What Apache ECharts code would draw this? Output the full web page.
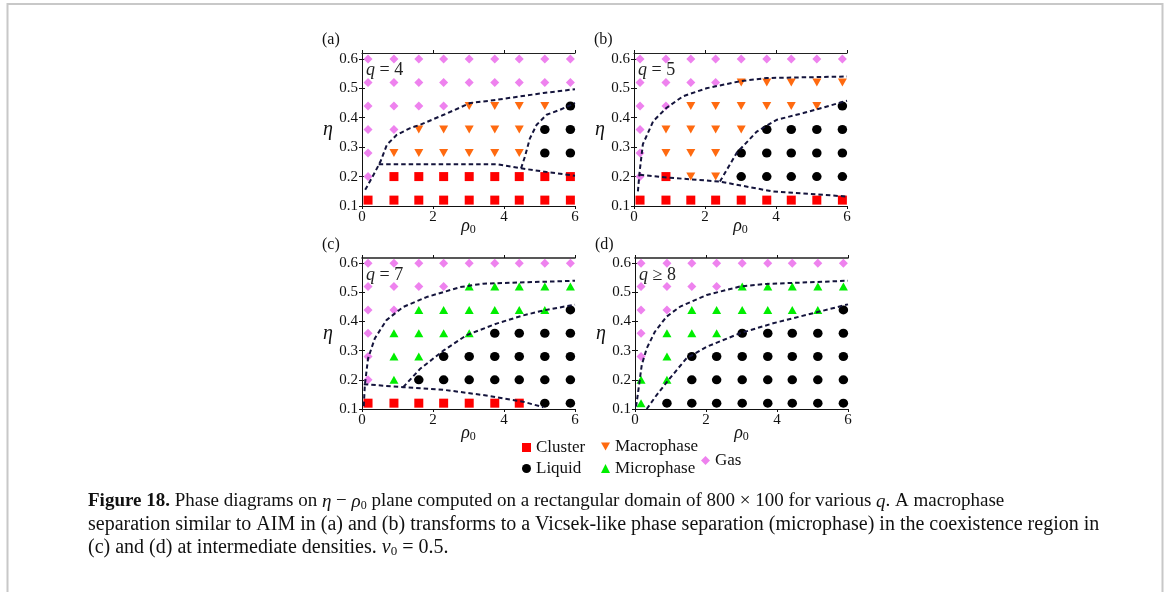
<!DOCTYPE html>
<html><head><meta charset="utf-8">
<script src="https://cdn.jsdelivr.net/npm/echarts@6/dist/echarts.min.js"></script>
<style>html,body{margin:0;padding:0;background:#fff}#c{width:1167px;height:592px}</style>
</head><body><div id="c"></div><script>
// ---------- data ----------
const rho = [0.17, 0.9, 1.6, 2.3, 3.02, 3.74, 4.43, 5.15, 5.87];
const eta = [0.12, 0.2, 0.28, 0.36, 0.44, 0.52, 0.6];
const xTicks = [0, 2, 4, 6];
const yTicks = [0.1, 0.2, 0.3, 0.4, 0.5, 0.6];
// rows: eta ascending; columns: rho ascending
// C cluster, L liquid, M macrophase, m microphase, G gas
const phaseA = ['CCCCCCCCC','GCCCCCCCC','GMMMMMMLL','GGMMMMMLL','GGGGMMMML','GGGGGGGGG','GGGGGGGGG'];
const phaseB = ['CCCCCCCCC','GCMMLLLLL','GMMMLLLLL','GMMMMLLLL','GGMMMMMML','GGGGMMMMM','GGGGGGGGG'];
const phaseC = ['CCCCCCCLL','GmLLLLLLL','GmmLLLLLL','GmmmmLLLL','GGmmmmmmL','GGGGmmmmm','GGGGGGGGG'];
const phaseD = ['mLLLLLLLL','mmLLLLLLL','GmLLLLLLL','GmmmLLLLL','GGmmmmmmL','GGGGmmmmm','GGGGGGGGG'];
// phase boundaries (dashed)
const bndA1 = [[0.09,0.155],[0.3,0.2],[0.52,0.251],[0.7,0.308],[0.98,0.342],[1.36,0.365],[1.64,0.376],[2.3,0.41],[3.05,0.45],[3.8,0.461],[5.11,0.484],[6,0.497]];
const bndA2 = [[4.48,0.228],[4.59,0.268],[4.73,0.33],[4.92,0.376],[5.2,0.41],[5.58,0.427],[6,0.45]];
const bndA3 = [[0.47,0.242],[3.8,0.242],[4.48,0.228],[5.11,0.217],[6,0.203]];
const bndB1 = [[0.11,0.15],[0.16,0.218],[0.25,0.31],[0.54,0.388],[0.91,0.433],[1.38,0.473],[2.04,0.5],[2.98,0.524],[3.74,0.535],[6,0.54]];
const bndB2 = [[2.42,0.183],[2.89,0.28],[3.46,0.353],[4.02,0.393],[4.77,0.416],[5.34,0.435],[6,0.458]];
const bndB3 = [[0.16,0.206],[0.91,0.197],[2.42,0.183],[3.93,0.149],[5.34,0.138],[6,0.132]];
const bndC1 = [[0.05,0.11],[0.08,0.182],[0.17,0.273],[0.36,0.342],[0.69,0.405],[1.16,0.45],[1.82,0.484],[2.76,0.518],[3.41,0.53],[6,0.54]];
const bndC2 = [[1.16,0.175],[1.63,0.237],[2.29,0.3],[2.94,0.353],[3.79,0.393],[4.54,0.421],[5.11,0.438],[6,0.458]];
const bndC3 = [[0.05,0.185],[1.16,0.175],[2.29,0.166],[3.41,0.148],[4.54,0.125],[5.11,0.106]];
const bndD1 = [[0.03,0.108],[0.09,0.16],[0.19,0.251],[0.33,0.308],[0.56,0.365],[0.89,0.417],[1.27,0.451],[2.02,0.491],[2.95,0.52],[3.7,0.529],[6,0.54]];
const bndD2 = [[0.33,0.1],[0.61,0.148],[0.98,0.205],[1.45,0.274],[2.03,0.314],[2.96,0.36],[3.89,0.394],[4.83,0.423],[6,0.459]];
const panelLabels = ['(a)','(b)','(c)','(d)'];
const qLabels = [['q',' = 4'],['q',' = 5'],['q',' = 7'],['q',' ≥ 8']];

// ---------- styling ----------
const SERIF = '"Liberation Serif","DejaVu Serif",serif';
const phases = {
  C:{name:'Cluster', symbol:'rect', size:[9,9], color:'#ff0000', rot:0},
  L:{name:'Liquid', symbol:'circle', size:[9.5,9], color:'#000000', rot:0},
  M:{name:'Macrophase', symbol:'triangle', size:[9,8], color:'#ff6a10', rot:180},
  m:{name:'Microphase', symbol:'triangle', size:[9,8], color:'#00ee00', rot:0},
  G:{name:'Gas', symbol:'diamond', size:[9,9], color:'#ee82ee', rot:0}
};
const grids = [
  {left:362, top:53, width:213, height:153, max:0.62},
  {left:634, top:53, width:213, height:153, max:0.62},
  {left:362, top:258, width:213, height:151, max:0.618},
  {left:635, top:258, width:213, height:151, max:0.618}
];
const phaseGrids = [phaseA, phaseB, phaseC, phaseD];
const bounds = [[bndA1,bndA2,bndA3],[bndB1,bndB2,bndB3],[bndC1,bndC2,bndC3],[bndD1,bndD2]];

const xAxis = [], yAxis = [], series = [], graphic = [];
grids.forEach((g, p) => {
  const axLine = {show:true, lineStyle:{color:'#111', width:1}};
  const topLine = {show:true, lineStyle:{color:'#222', width: p>=2 ? 1.6 : 1.2}};
  xAxis.push({gridIndex:p, type:'value', min:0, max:6, interval:2, position:'bottom',
    axisLine:axLine, splitLine:{show:false},
    axisTick:{show:true, length:3, inside:false, lineStyle:{color:'#111'}},
    axisLabel:{color:'#111', fontFamily:SERIF, fontSize:15, margin:4,
      customValues: xTicks},
    name:'{i|ρ}{s|0}', nameLocation:'middle', nameGap: p<2 ? 11 : 15, nameMoveOverlap:false,
    nameTextStyle:{color:'#111', rich:{
      i:{fontStyle:'italic', fontFamily:SERIF, fontSize:18, color:'#111'},
      s:{fontFamily:SERIF, fontSize:12, color:'#111', padding:[7,0,0,0]}}}
  });
  xAxis.push({gridIndex:p, type:'value', min:0, max:6, interval:2, position:'top',
    axisLine:topLine, splitLine:{show:false},
    axisTick:{show:true, length:3, lineStyle:{color:'#111'}}, axisLabel:{show:false}});
  yAxis.push({gridIndex:p, type:'value', min:0.1, max:g.max, position:'left',
    axisLine:axLine, splitLine:{show:false},
    axisTick:{show:true, length:3, lineStyle:{color:'#111'}, customValues:yTicks},
    axisLabel:{color:'#111', fontFamily:SERIF, fontSize:15, margin:4, customValues:yTicks,
      formatter: v => v.toFixed(1)},
    name:'η', nameLocation:'middle', nameGap:29, nameRotate:0, nameMoveOverlap:false,
    nameTextStyle:{color:'#111', fontStyle:'italic', fontFamily:SERIF, fontSize:20, padding:[16,0,0,0]}
  });
  yAxis.push({gridIndex:p, type:'value', min:0.1, max:g.max, position:'right',
    axisLine:axLine, splitLine:{show:false},
    axisTick:{show:true, length:3, lineStyle:{color:'#111'}, customValues:yTicks},
    axisLabel:{show:false}});

  // scatter markers
  const pg = phaseGrids[p];
  Object.keys(phases).forEach(code => {
    const ph = phases[code];
    const data = [];
    pg.forEach((row, r) => { for (let c = 0; c < row.length; c++) if (row[c] === code) data.push([rho[c], eta[r]]); });
    if (!data.length) return;
    series.push({type:'scatter', name:ph.name, xAxisIndex:2*p, yAxisIndex:2*p,
      symbol:ph.symbol, symbolSize:ph.size, symbolRotate:ph.rot,
      itemStyle:{color:ph.color, opacity:1}, data, z:2, silent:true, clip:false});
  });
  // dashed boundaries
  bounds[p].forEach(b => {
    series.push({type:'line', name:'boundary', xAxisIndex:2*p, yAxisIndex:2*p, data:b,
      symbol:'none', smooth:false, z:3, silent:true, clip:true,
      lineStyle:{color:'#14143c', width:2, type:[4.5,3]}});
  });

  graphic.push({type:'text', left:g.left-40, top:g.top-21,
    style:{text:panelLabels[p], font:'16px '+SERIF, fill:'#111'}});
  graphic.push({type:'text', left:g.left+4, top:g.top+8,
    style:{text:'{i|'+qLabels[p][0]+'}{n|'+qLabels[p][1]+'}', rich:{
      i:{fontStyle:'italic', fontFamily:SERIF, fontSize:18, fill:'#222'},
      n:{fontFamily:SERIF, fontSize:18, fill:'#222'}}}});
});

// frame
graphic.push({type:'rect', shape:{x:7.5, y:4, width:1155, height:700},
  style:{fill:'none', stroke:'#c8c8c8', lineWidth:2}, z:-1});

// caption
function capRich(fs) {
  return {
    b:{fontWeight:'bold', fontFamily:SERIF, fontSize:fs, fill:'#111'},
    i:{fontStyle:'italic', fontFamily:SERIF, fontSize:fs, fill:'#111'},
    s:{fontFamily:SERIF, fontSize:Math.round(fs*0.65), fill:'#111', padding:[8,0,0,0]},
    n:{fontFamily:SERIF, fontSize:fs, fill:'#111'}
  };
}
const capLines = [
  '{b|Figure 18.}{n| Phase diagrams on }{i|η}{n| − }{i|ρ}{s|0}{n| plane computed on a rectangular domain of 800 × 100 for various }{i|q}{n|. A macrophase}',
  '{n|separation similar to AIM in (a) and (b) transforms to a Vicsek-like phase separation (microphase) in the coexistence region in}',
  '{n|(c) and (d) at intermediate densities. }{i|v}{s|0}{n| = 0.5.}'
];
const capY = [492, 515, 538];
const capFs = [19, 20, 20];
capLines.forEach((t, k) => graphic.push({type:'text', left:88, top:capY[k], style:{text:t, rich:capRich(capFs[k])}}));

const legendBase = {orient:'horizontal', itemWidth:9, itemHeight:9, selectedMode:false, padding:0,
  textStyle:{fontFamily:SERIF, fontSize:17, color:'#111'}, itemGap:0};
const legend = [
  Object.assign({}, legendBase, {left:522, top:439, data:[{name:'Cluster', icon:'rect'}]}),
  Object.assign({}, legendBase, {left:522, top:460, data:[{name:'Liquid', icon:'circle'}]}),
  Object.assign({}, legendBase, {left:601, top:438, data:[{name:'Macrophase', icon:'path://M0,0L10,0L5,8.66Z'}]}),
  Object.assign({}, legendBase, {left:601, top:460, data:[{name:'Microphase', icon:'triangle'}]}),
  Object.assign({}, legendBase, {left:701, top:452, data:[{name:'Gas', icon:'diamond'}]})
];

const chart = echarts.init(document.getElementById('c'), null, {renderer:'canvas'});
chart.setOption({
  backgroundColor:'#fff', animation:false,
  grid: grids.map(g => ({left:g.left, top:g.top, width:g.width, height:g.height, containLabel:false})),
  xAxis, yAxis, series, legend, graphic
});
</script></body></html>
